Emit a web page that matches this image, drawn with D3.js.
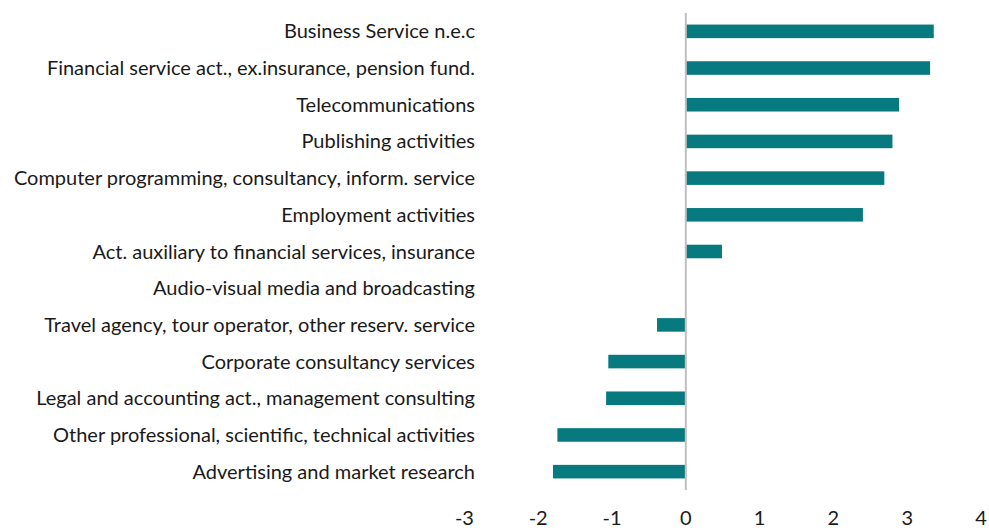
<!DOCTYPE html>
<html>
  <head>
    <meta charset="utf-8">
    <script src="https://d3js.org/d3.v7.min.js"></script>
    <style>
      body { margin: 0; background: #fff; }
      text { font-family: Lato, "Open Sans", sans-serif; fill: #1a1a1a; }
    </style>
  </head>
  <body>
    <div id="my_chart"></div>
    <script>
      // data, top to bottom
      var categories = [
        "Business Service n.e.c",
        "Financial service act., ex.insurance, pension fund.",
        "Telecommunications",
        "Publishing activities",
        "Computer programming, consultancy, inform. service",
        "Employment activities",
        "Act. auxiliary to financial services, insurance",
        "Audio-visual media and broadcasting",
        "Travel agency, tour operator, other reserv. service",
        "Corporate consultancy services",
        "Legal and accounting act., management consulting",
        "Other professional, scientific, technical activities",
        "Advertising and market research"
      ];
      var values = [3.36, 3.31, 2.89, 2.80, 2.69, 2.40, 0.49, 0, -0.39, -1.05, -1.08, -1.74, -1.80];
      var ticks = [-3, -2, -1, 0, 1, 2, 3, 4];

      var width = 989, height = 530;

      var svg = d3.select("#my_chart")
        .append("svg")
          .attr("width", width)
          .attr("height", height);

      var x = d3.scaleLinear()
        .domain([-3, 4])
        .range([464.4, 981]);

      var y = d3.scaleBand()
        .domain(categories)
        .range([13, 490])
        .paddingInner(0.63)
        .paddingOuter(0.315);

      // bars
      svg.append("g")
        .selectAll("rect")
        .data(values)
        .enter().append("rect")
          .attr("x", function(d) { return x(Math.min(0, d)); })
          .attr("y", function(d, i) { return y(categories[i]); })
          .attr("width", function(d) { return Math.abs(x(d) - x(0)); })
          .attr("height", y.bandwidth())
          .attr("fill", "#077a80");

      // zero line
      svg.append("line")
        .attr("x1", x(0)).attr("x2", x(0))
        .attr("y1", 13).attr("y2", 490)
        .attr("stroke", "#bfbfbf")
        .attr("stroke-width", 2);

      // category labels
      svg.append("g")
        .selectAll("text")
        .data(categories)
        .enter().append("text")
          .attr("x", 475)
          .attr("y", function(d) { return y(d) + y.bandwidth() / 2; })
          .attr("dy", "0.35em")
          .attr("text-anchor", "end")
          .attr("font-size", "20px")
          .text(function(d) { return d; });

      // x tick labels
      svg.append("g")
        .selectAll("text")
        .data(ticks)
        .enter().append("text")
          .attr("x", function(d) { return x(d); })
          .attr("y", 525)
          .attr("text-anchor", "middle")
          .attr("font-size", "20px")
          .text(function(d) { return d; });
    </script>
  </body>
</html>
